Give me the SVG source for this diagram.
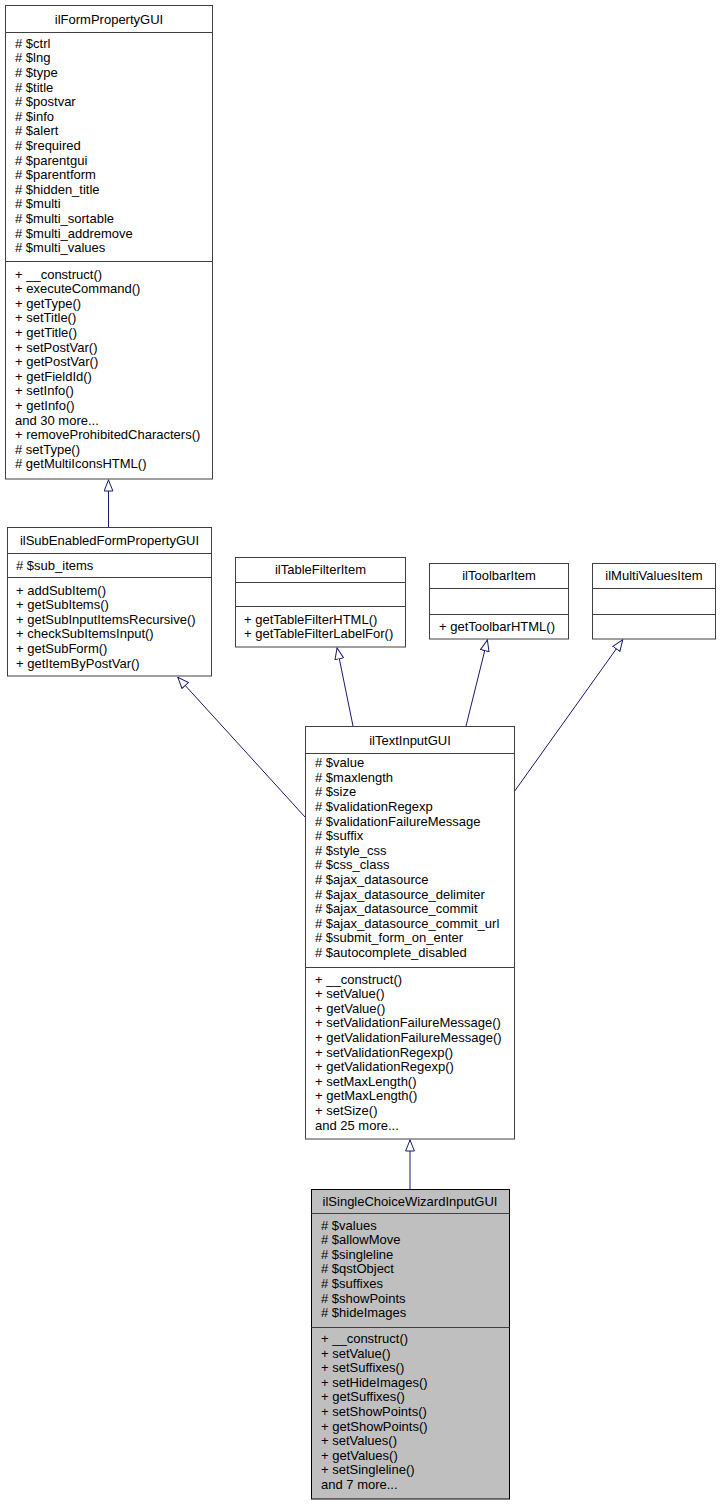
<svg xmlns="http://www.w3.org/2000/svg" width="721" height="1505" viewBox="0 0 721 1505">
<style>
text{font-family:"Liberation Sans",Arial,Helvetica,sans-serif;font-size:13px;fill:#000}
.t{text-anchor:middle}
.box{fill:#fff;stroke:#404040;stroke-width:1}
.cur{fill:#bfbfbf;stroke:#000;stroke-width:1}
.sep{stroke:#404040;stroke-width:1}
.edge{fill:none;stroke:#191970;stroke-width:1;marker-end:url(#inh)}
</style>
<defs>
<marker id="inh" viewBox="0 0 12 10" refX="12" refY="5" markerWidth="12" markerHeight="10" markerUnits="userSpaceOnUse" orient="auto">
<path d="M0.5,0.6 L11.5,5 L0.5,9.4 Z" fill="#fff" stroke="#191970" stroke-width="1"/>
</marker>
</defs>
<rect width="721" height="1505" fill="#fff"/>
<g id="connectors">
<path class="edge" d="M108.5,527 L108.5,479.5"/>
<path class="edge" d="M305,817 L177.5,677"/>
<path class="edge" d="M353,726 L337,647.5"/>
<path class="edge" d="M466,726 L487.5,639.5"/>
<path class="edge" d="M514,792 L623,639.5"/>
<path class="edge" d="M410,1189 L410,1139.5"/>
</g>
<g id="ilFormPropertyGUI">
<rect class="box" x="5.5" y="5.5" width="207" height="473.5"/>
<line class="sep" x1="5.5" y1="32.5" x2="212.5" y2="32.5"/>
<line class="sep" x1="5.5" y1="261.5" x2="212.5" y2="261.5"/>
<text class="t" x="109" y="23.5">ilFormPropertyGUI</text>
<text x="15" y="47.8"># $ctrl</text>
<text x="15" y="62.4"># $lng</text>
<text x="15" y="77"># $type</text>
<text x="15" y="91.6"># $title</text>
<text x="15" y="106.2"># $postvar</text>
<text x="15" y="120.8"># $info</text>
<text x="15" y="135.4"># $alert</text>
<text x="15" y="150"># $required</text>
<text x="15" y="164.6"># $parentgui</text>
<text x="15" y="179.2"># $parentform</text>
<text x="15" y="193.8"># $hidden_title</text>
<text x="15" y="208.4"># $multi</text>
<text x="15" y="223"># $multi_sortable</text>
<text x="15" y="237.6"># $multi_addremove</text>
<text x="15" y="252.2"># $multi_values</text>
<text x="15" y="278.5">+ __construct()</text>
<text x="15" y="293.1">+ executeCommand()</text>
<text x="15" y="307.7">+ getType()</text>
<text x="15" y="322.3">+ setTitle()</text>
<text x="15" y="336.9">+ getTitle()</text>
<text x="15" y="351.5">+ setPostVar()</text>
<text x="15" y="366.1">+ getPostVar()</text>
<text x="15" y="380.7">+ getFieldId()</text>
<text x="15" y="395.3">+ setInfo()</text>
<text x="15" y="409.9">+ getInfo()</text>
<text x="15" y="424.5">and 30 more...</text>
<text x="15" y="439.1">+ removeProhibitedCharacters()</text>
<text x="15" y="453.7"># setType()</text>
<text x="15" y="468.3"># getMultiIconsHTML()</text>
</g>
<g id="ilSubEnabledFormPropertyGUI">
<rect class="box" x="7.5" y="527.5" width="204" height="148.5"/>
<line class="sep" x1="7.5" y1="553.5" x2="211.5" y2="553.5"/>
<line class="sep" x1="7.5" y1="577.5" x2="211.5" y2="577.5"/>
<text class="t" x="109.5" y="544.5">ilSubEnabledFormPropertyGUI</text>
<text x="16" y="569.5"># $sub_items</text>
<text x="16" y="594.5">+ addSubItem()</text>
<text x="16" y="609.1">+ getSubItems()</text>
<text x="16" y="623.7">+ getSubInputItemsRecursive()</text>
<text x="16" y="638.3">+ checkSubItemsInput()</text>
<text x="16" y="652.9">+ getSubForm()</text>
<text x="16" y="667.5">+ getItemByPostVar()</text>
</g>
<g id="ilTableFilterItem">
<rect class="box" x="235.5" y="557.5" width="170" height="89.5"/>
<line class="sep" x1="235.5" y1="582.5" x2="405.5" y2="582.5"/>
<line class="sep" x1="235.5" y1="606.5" x2="405.5" y2="606.5"/>
<text class="t" x="320.5" y="574">ilTableFilterItem</text>
<text x="244" y="623.5">+ getTableFilterHTML()</text>
<text x="244" y="638.1">+ getTableFilterLabelFor()</text>
</g>
<g id="ilToolbarItem">
<rect class="box" x="429.5" y="563.5" width="139" height="75.5"/>
<line class="sep" x1="429.5" y1="588.5" x2="568.5" y2="588.5"/>
<line class="sep" x1="429.5" y1="614.5" x2="568.5" y2="614.5"/>
<text class="t" x="499" y="580">ilToolbarItem</text>
<text x="439" y="631">+ getToolbarHTML()</text>
</g>
<g id="ilMultiValuesItem">
<rect class="box" x="592.5" y="563.5" width="123" height="75.5"/>
<line class="sep" x1="592.5" y1="588.5" x2="715.5" y2="588.5"/>
<line class="sep" x1="592.5" y1="614.5" x2="715.5" y2="614.5"/>
<text class="t" x="654" y="580">ilMultiValuesItem</text>
</g>
<g id="ilTextInputGUI">
<rect class="box" x="305.5" y="726.5" width="209" height="412.5"/>
<line class="sep" x1="305.5" y1="753.5" x2="514.5" y2="753.5"/>
<line class="sep" x1="305.5" y1="967.5" x2="514.5" y2="967.5"/>
<text class="t" x="410" y="744.5">ilTextInputGUI</text>
<text x="315" y="767.2"># $value</text>
<text x="315" y="781.8"># $maxlength</text>
<text x="315" y="796.4"># $size</text>
<text x="315" y="811"># $validationRegexp</text>
<text x="315" y="825.6"># $validationFailureMessage</text>
<text x="315" y="840.2"># $suffix</text>
<text x="315" y="854.8"># $style_css</text>
<text x="315" y="869.4"># $css_class</text>
<text x="315" y="884"># $ajax_datasource</text>
<text x="315" y="898.6"># $ajax_datasource_delimiter</text>
<text x="315" y="913.2"># $ajax_datasource_commit</text>
<text x="315" y="927.8"># $ajax_datasource_commit_url</text>
<text x="315" y="942.4"># $submit_form_on_enter</text>
<text x="315" y="957"># $autocomplete_disabled</text>
<text x="315" y="983.5">+ __construct()</text>
<text x="315" y="998.1">+ setValue()</text>
<text x="315" y="1012.7">+ getValue()</text>
<text x="315" y="1027.3">+ setValidationFailureMessage()</text>
<text x="315" y="1041.9">+ getValidationFailureMessage()</text>
<text x="315" y="1056.5">+ setValidationRegexp()</text>
<text x="315" y="1071.1">+ getValidationRegexp()</text>
<text x="315" y="1085.7">+ setMaxLength()</text>
<text x="315" y="1100.3">+ getMaxLength()</text>
<text x="315" y="1114.9">+ setSize()</text>
<text x="315" y="1129.5">and 25 more...</text>
</g>
<g id="ilSingleChoiceWizardInputGUI">
<rect class="cur" x="311.5" y="1189.5" width="198" height="309.5"/>
<line class="sep" x1="311.5" y1="1213.5" x2="509.5" y2="1213.5" stroke="#000"/>
<line class="sep" x1="311.5" y1="1327.5" x2="509.5" y2="1327.5" stroke="#000"/>
<text class="t" x="410" y="1205.5">ilSingleChoiceWizardInputGUI</text>
<text x="321" y="1229.5"># $values</text>
<text x="321" y="1244.1"># $allowMove</text>
<text x="321" y="1258.7"># $singleline</text>
<text x="321" y="1273.3"># $qstObject</text>
<text x="321" y="1287.9"># $suffixes</text>
<text x="321" y="1302.5"># $showPoints</text>
<text x="321" y="1317.1"># $hideImages</text>
<text x="321" y="1343">+ __construct()</text>
<text x="321" y="1357.6">+ setValue()</text>
<text x="321" y="1372.2">+ setSuffixes()</text>
<text x="321" y="1386.8">+ setHideImages()</text>
<text x="321" y="1401.4">+ getSuffixes()</text>
<text x="321" y="1416">+ setShowPoints()</text>
<text x="321" y="1430.6">+ getShowPoints()</text>
<text x="321" y="1445.2">+ setValues()</text>
<text x="321" y="1459.8">+ getValues()</text>
<text x="321" y="1474.4">+ setSingleline()</text>
<text x="321" y="1489">and 7 more...</text>
</g>
</svg>
